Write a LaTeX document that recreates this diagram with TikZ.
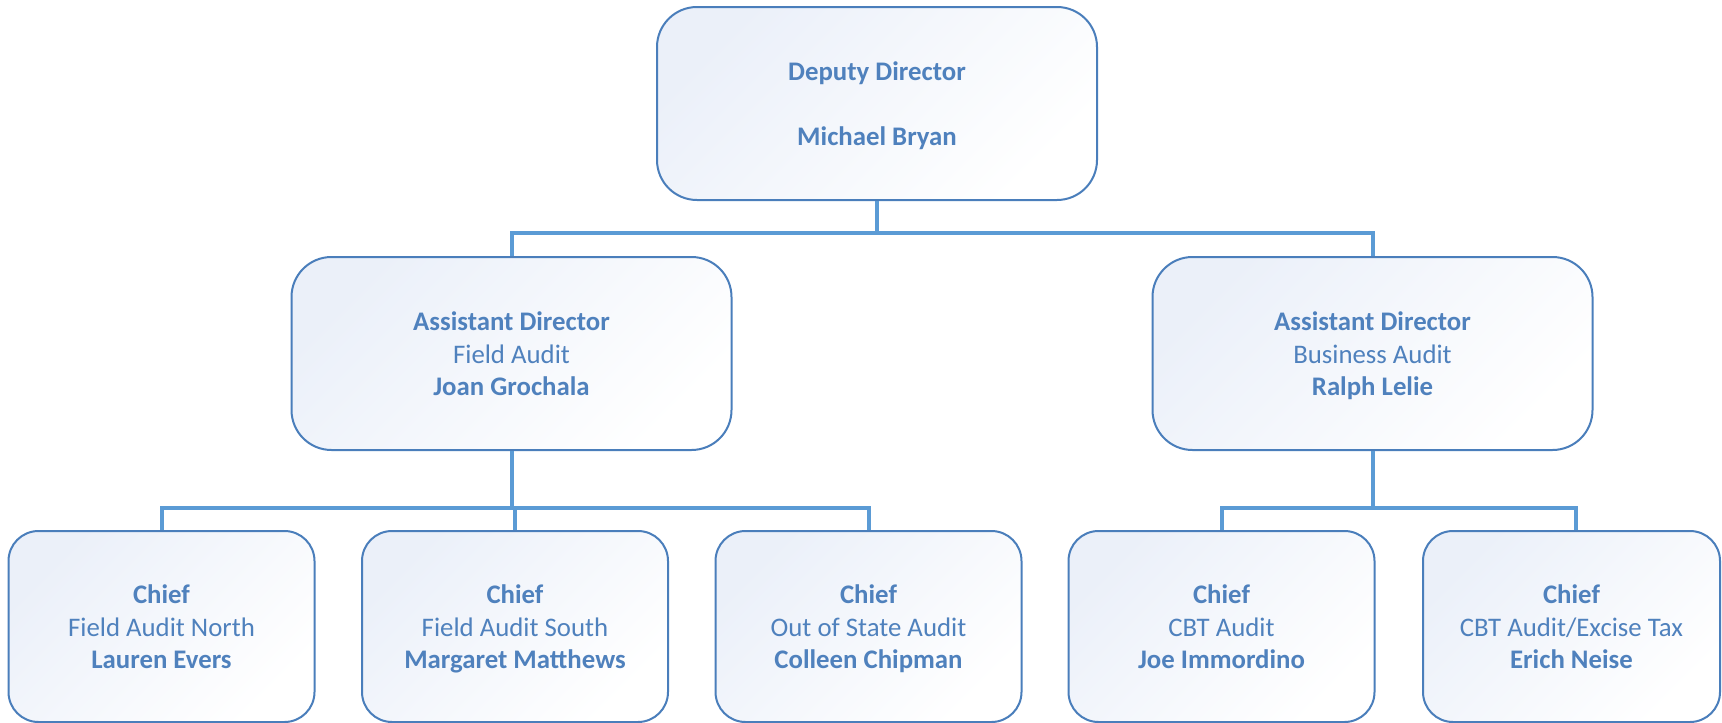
\documentclass[tikz,border=0pt]{standalone}
\usepackage{fontspec}
\setmainfont{Carlito}
\definecolor{txtblue}{HTML}{4F81BD}
\definecolor{brdblue}{HTML}{4A7EBB}
\definecolor{lineblue}{HTML}{5B9BD5}
\definecolor{fillblue}{HTML}{EBF0F9}
\newcommand{\boxtxt}[3]{\rule{0pt}{\dimexpr\ht\strutbox+6pt\relax}#1\\#2\\#3\strut}
\tikzset{
  box/.style={draw=brdblue, line width=2pt, rounded corners=40pt,
    top color=fillblue, bottom color=white, shading angle=45,
    text=txtblue, align=center, inner sep=0pt,
    font=\fontsize{26.8}{32.5}\selectfont},
  bigbox/.style={box, minimum width=440pt, minimum height=193pt},
  smallbox/.style={box, rounded corners=30pt, minimum width=306pt, minimum height=191pt},
  conn/.style={draw=lineblue, line width=4pt}
}
\begin{document}
\begin{tikzpicture}[x=1pt,y=-1pt]
\useasboundingbox (0,0) rectangle (1722,723);
\node[bigbox] (top) at (877,103.5) {\boxtxt{\textbf{Deputy Director}}{}{\textbf{Michael Bryan}}};
\node[bigbox] (midL) at (511.5,353.5) {\boxtxt{\textbf{Assistant Director}}{Field Audit}{\textbf{Joan Grochala}}};
\node[bigbox] (midR) at (1372.5,353.5) {\boxtxt{\textbf{Assistant Director}}{Business Audit}{\textbf{Ralph Lelie}}};
\node[smallbox] (b1) at (161.5,626.5) {\boxtxt{\textbf{Chief}}{Field Audit North}{\textbf{Lauren Evers}}};
\node[smallbox] (b2) at (515,626.5) {\boxtxt{\textbf{Chief}}{Field Audit South}{\textbf{Margaret Matthews}}};
\node[smallbox] (b3) at (868.5,626.5) {\boxtxt{\textbf{Chief}}{Out of State Audit}{\textbf{Colleen Chipman}}};
\node[smallbox] (b4) at (1221.5,626.5) {\boxtxt{\textbf{Chief}}{CBT Audit}{\textbf{Joe Immordino}}};
\node[smallbox, minimum width=297pt] (b5) at (1571.5,626.5) {\boxtxt{\textbf{Chief}}{CBT Audit/Excise Tax}{\textbf{Erich Neise}}};
\coordinate (j0) at (877,233);
\coordinate (j1) at (511.5,508);
\coordinate (j2) at (1372.5,508);
\draw[conn] (top.south) -- (j0);
\draw[conn] (midL.north) |- (j0) -| (midR.north);
\draw[conn] (midL.south) -- (j1);
\draw[conn] (b1.north) |- (j1) -| (b3.north);
\draw[conn] (b2.north) -- (b2.north |- j1);
\draw[conn] (midR.south) -- (j2);
\draw[conn] (b4.north) |- (j2) -| ([xshift=4pt]b5.north);
\end{tikzpicture}
\end{document}
